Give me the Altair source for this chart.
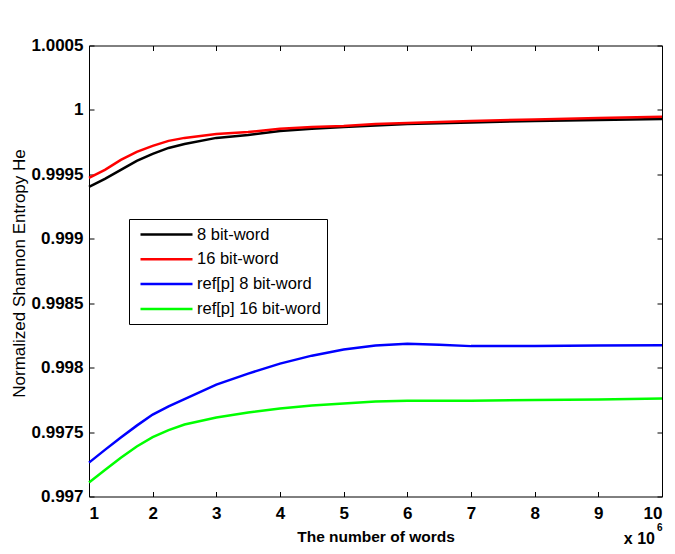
import altair as alt
import pandas as pd

# ---- data ----
x_vals = [1, 1.25, 1.5, 1.75, 2, 2.25, 2.5, 3, 3.5, 4, 4.5, 5, 5.5, 6, 6.5, 7, 8, 9, 10]
bit8 = [0.999403, 0.999465, 0.999535, 0.999605, 0.999659, 0.999705, 0.999736, 0.999783,
        0.999806, 0.999837, 0.999853, 0.999868, 0.999880, 0.999891, 0.999897, 0.999903,
        0.999915, 0.999922, 0.999930]
bit16 = [0.999473, 0.999535, 0.999612, 0.999674, 0.999721, 0.999760, 0.999783, 0.999814,
         0.999829, 0.999853, 0.999868, 0.999876, 0.999891, 0.999899, 0.999907, 0.999915,
         0.999926, 0.999938, 0.999948]
ref8 = [0.997263, 0.997362, 0.997458, 0.997550, 0.997636, 0.997700, 0.997755, 0.997868,
        0.997954, 0.998031, 0.998093, 0.998140, 0.998171, 0.998186, 0.998178, 0.998167,
        0.998167, 0.998171, 0.998174]
ref16 = [0.997109, 0.997205, 0.997300, 0.997388, 0.997460, 0.997515, 0.997559, 0.997613,
         0.997652, 0.997683, 0.997706, 0.997721, 0.997737, 0.997744, 0.997744, 0.997744,
         0.997748, 0.997752, 0.997760]

series_names = ["8 bit-word", "16 bit-word", "ref[p] 8 bit-word", "ref[p] 16 bit-word"]
series_colors = ["#000000", "#ff0000", "#0000ff", "#00ff00"]
x_ticks = [1, 2, 3, 4, 5, 6, 7, 8, 9, 10]
y_ticks = [0.997, 0.9975, 0.998, 0.9985, 0.999, 0.9995, 1.0, 1.0005]
x_title = "The number of words"
y_title = "Normalized Shannon Entropy He"
exp_base = ["x 10"]
exp_power = ["6"]

rows = []
for name, vals in zip(series_names, [bit8, bit16, ref8, ref16]):
    for i, (xv, v) in enumerate(zip(x_vals, vals)):
        rows.append({"x": xv, "H": v, "series": name, "order": i})
df = pd.DataFrame(rows)

FONT = "Liberation Sans"
LBL = dict(labelFont=FONT, labelFontSize=17, labelFontWeight="bold", labelColor="black",
           tickColor="black", tickWidth=1, grid=False)

legend = alt.Legend(
    title=None, orient="none", legendX=40, legendY=173.5,
    symbolType="M-3.25,0H3.25", symbolSize=256, symbolStrokeWidth=2.5,
    symbolOffset=22, labelOffset=21, labelFont=FONT, labelFontSize=16.5,
    labelColor="black", labelLimit=0, padding=6, rowPadding=6.8,
    strokeColor="black", fillColor="white",
)
color = alt.Color("series:N",
                  scale=alt.Scale(domain=series_names, range=series_colors),
                  legend=legend)

xscale = alt.Scale(domain=[1, 10], nice=False, zero=False)
yscale = alt.Scale(domain=[0.997, 1.0005], nice=False, zero=False)

main = alt.Chart(df[df["series"].isin(series_names[:2])]).mark_line(strokeWidth=2.5).encode(
    x=alt.X("x:Q", scale=xscale, axis=alt.Axis(
        orient="bottom", offset=-5, tickSize=5, domain=False, values=x_ticks, format="d",
        labelPadding=8.5, title=x_title, titleFont=FONT, titleFontSize=15.5,
        titleFontWeight="bold", titleColor="black", titleY=50,
        titleBaseline="alphabetic", **LBL)),
    y=alt.Y("H:Q", scale=yscale, axis=alt.Axis(
        orient="left", offset=-5, tickSize=5, domain=False, values=y_ticks,
        labelExpr="format(datum.value, '.4~f')", labelPadding=6,
        title=y_title, titleFont=FONT, titleFontSize=17, titleFontWeight="normal",
        titleColor="black", titleX=-70, titleY=227.5, titleBaseline="alphabetic",
        titleAngle=270, **LBL)),
    color=color,
    order="order:Q",
)

ref = alt.Chart(df[df["series"].isin(series_names[2:])]).mark_line(strokeWidth=2.5).encode(
    x=alt.X("x:Q", scale=xscale, axis=alt.Axis(
        orient="top", offset=-5, tickSize=5, domain=False, values=x_ticks,
        labels=False, title=None, **LBL)),
    y=alt.Y("H:Q", scale=yscale, axis=alt.Axis(
        orient="right", offset=-5, tickSize=5, domain=False, values=y_ticks,
        labels=False, title=None, **LBL)),
    color=color,
    order="order:Q",
)

exp1 = alt.Chart(pd.DataFrame({"t": exp_base})).mark_text(
    font=FONT, fontSize=16, fontWeight="bold", align="right", baseline="alphabetic",
    color="black").encode(x=alt.value(566), y=alt.value(498.5), text="t:N")
exp2 = alt.Chart(pd.DataFrame({"t": exp_power})).mark_text(
    font=FONT, fontSize=10, fontWeight="bold", align="left", baseline="alphabetic",
    color="black").encode(x=alt.value(568), y=alt.value(485.5), text="t:N")

chart = alt.layer(main, ref, exp1, exp2).resolve_scale(
    x="shared", y="shared", color="shared"
).resolve_axis(
    x="independent", y="independent"
).properties(
    width=573, height=451,
    background="white",
    autosize=alt.AutoSizeParams(type="none"),
    padding={"left": 81, "top": 37.5, "right": 5, "bottom": 49.5},
).configure_view(
    stroke="black", strokeWidth=1,
)

chart.save("out.html", embed_options={"renderer": "svg", "actions": False})
